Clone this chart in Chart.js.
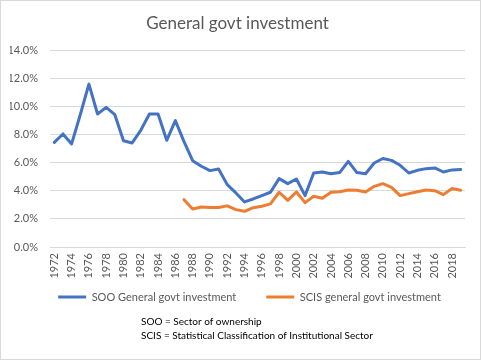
<!DOCTYPE html>
<html>
<head>
<meta charset="utf-8">
<script src="https://cdn.jsdelivr.net/npm/chart.js@4"></script>
<style>
  html, body { margin: 0; padding: 0; background: #fff; }
  #wrap { width: 481px; height: 360px; position: relative; }
</style>
</head>
<body>
<div id="wrap"><canvas id="c" width="481" height="360"></canvas></div>
<script>
const years = [];
for (let y = 1972; y <= 2019; y++) years.push(String(y));

const sooValues = [7.45, 8.05, 7.34, 9.42, 11.6, 9.47, 9.94, 9.42, 7.57, 7.41,
  8.31, 9.47, 9.47, 7.6, 9.0, 7.5, 6.15, 5.75, 5.44, 5.56,
  4.44, 3.85, 3.21, 3.42, 3.66, 3.9, 4.87, 4.51, 4.84, 3.66,
  5.27, 5.34, 5.22, 5.3, 6.1, 5.3, 5.22, 5.98, 6.3, 6.17,
  5.82, 5.27, 5.46, 5.58, 5.63, 5.34, 5.49, 5.51];

const scisValues = [null, null, null, null, null, null, null, null, null, null,
  null, null, null, null, null, 3.37, 2.71, 2.85, 2.82, 2.82,
  2.93, 2.66, 2.54, 2.8, 2.9, 3.07, 3.9, 3.32, 3.92, 3.16,
  3.61, 3.47, 3.9, 3.94, 4.06, 4.04, 3.92, 4.32, 4.51, 4.25,
  3.66, 3.8, 3.94, 4.06, 4.01, 3.73, 4.16, 4.04];

const seriesNames = ['SOO General govt investment', 'SCIS general govt investment'];
const titleText = 'General govt investment';
const footnotes = ['SOO = Sector of ownership', 'SCIS = Statistical Classification of Institutional Sector'];

const FONT = 'Lato, "Liberation Sans", sans-serif';

const framePlugin = {
  id: 'frame',
  beforeLayout(chart) {
    const lg = chart.legend;
    if (lg && !lg._patchedFit) {
      const orig = lg.fit;
      lg.fit = function () { orig.call(this); this.height = 31; };
      lg._patchedFit = true;
    }
  },
  afterLayout(chart) {
    const lg = chart.legend;
    if (lg) {
      lg.top -= 19.5;
      lg.left += 12; lg.right += 12;
    }
  },
  afterDraw(chart) {
    const ctx = chart.ctx;
    ctx.save();
    ctx.strokeStyle = '#d9d9d9';
    ctx.lineWidth = 1;
    ctx.strokeRect(0.5, 0.5, chart.width - 1, chart.height - 1);
    ctx.fillStyle = '#000';
    ctx.font = '10px ' + FONT;
    ctx.textBaseline = 'middle';
    ctx.textAlign = 'left';
    ctx.fillText(footnotes[0], 141, 322);
    ctx.fillText(footnotes[1], 141, 336);
    ctx.restore();
  }
};

new Chart(document.getElementById('c'), {
  type: 'line',
  data: {
    labels: years,
    datasets: [
      { label: seriesNames[0], data: sooValues, borderColor: '#4472C4', backgroundColor: '#4472C4',
        borderWidth: 3, pointRadius: 0, tension: 0, borderCapStyle: 'round', borderJoinStyle: 'round' },
      { label: seriesNames[1], data: scisValues, borderColor: '#ED7D31', backgroundColor: '#ED7D31',
        borderWidth: 3, pointRadius: 0, tension: 0, spanGaps: false, borderCapStyle: 'round', borderJoinStyle: 'round' }
    ]
  },
  options: {
    responsive: false,
    animation: false,
    layout: { padding: { left: 10, right: 16, top: 0, bottom: 48 } },
    plugins: {
      title: {
        display: true, text: titleText, color: '#595959',
        font: { family: FONT, size: 17, weight: 'normal' },
        padding: { top: 13, bottom: 17 }
      },
      legend: {
        position: 'bottom',
        labels: {
          color: '#595959', font: { family: FONT, size: 11 },
          boxWidth: 28, boxHeight: 3, padding: 30,
          generateLabels(chart) {
            const items = Chart.defaults.plugins.legend.labels.generateLabels(chart);
            items.forEach(i => { i.lineWidth = 0; });
            return items;
          }
        }
      },
      tooltip: { enabled: false }
    },
    scales: {
      x: {
        offset: true,
        afterFit(s) { s.height = 34; },
        grid: { display: false, drawTicks: false },
        border: { display: true, color: '#d9d9d9' },
        ticks: {
          autoSkip: false, minRotation: 90, maxRotation: 90, padding: 6,
          color: '#595959', font: { family: FONT, size: 11 },
          callback(v, i) { return i % 2 === 0 ? this.getLabelForValue(v) : ''; }
        }
      },
      y: {
        min: 0, max: 14,
        afterFit(s) { s.width = 40; },
        grid: { color: '#d9d9d9', drawTicks: false },
        border: { display: false },
        ticks: {
          stepSize: 2, padding: 12,
          color: '#595959', font: { family: FONT, size: 11 },
          callback: v => v.toFixed(1) + '%'
        }
      }
    }
  },
  plugins: [framePlugin]
});
</script>
</body>
</html>
